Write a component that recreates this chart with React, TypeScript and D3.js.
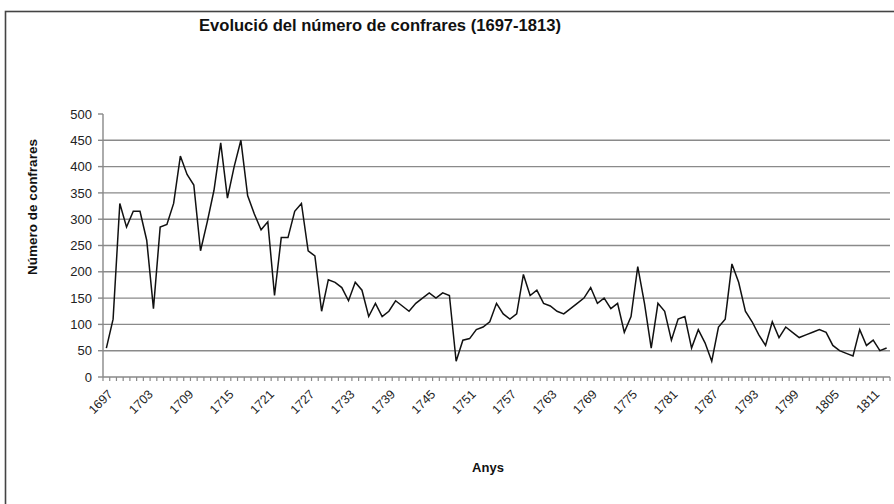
import React from "react";
import * as d3 from "d3";

const startYear = 1697;
const values: number[] = [
  55, 110, 330, 285, 315, 315, 260, 130, 285, 290,
  330, 420, 385, 365, 240, 295, 355, 445, 340, 400,
  450, 345, 310, 280, 295, 155, 265, 265, 315, 330,
  240, 230, 125, 185, 180, 170, 145, 180, 165, 115,
  140, 115, 125, 145, 135, 125, 140, 150, 160, 150,
  160, 155, 30, 70, 73, 90, 95, 105, 140, 120,
  110, 120, 195, 155, 165, 140, 135, 125, 120, 130,
  140, 150, 170, 140, 150, 130, 140, 85, 115, 210,
  140, 55, 140, 125, 70, 110, 115, 55, 90, 65,
  30, 95, 110, 215, 180, 125, 105, 80, 60, 105,
  75, 95, 85, 75, 80, 85, 90, 85, 60, 50,
  45, 40, 90, 60, 70, 50, 55,
];
const years: number[] = values.map((_, i) => startYear + i);
const yTicks: number[] = [0, 50, 100, 150, 200, 250, 300, 350, 400, 450, 500];
const gridValues: number[] = [50, 100, 150, 200, 250, 300, 350, 400, 450];
const labelYears: number[] = years.filter((y) => (y - startYear) % 6 === 0);

const title = "Evolució del número de confrares (1697-1813)";
const yTitle = "Número de confrares";
const xTitle = "Anys";

export default function App() {
  const left = 103;
  const right = 890;
  const top = 114;
  const bottom = 377;

  const x = d3
    .scaleBand<number>()
    .domain(years)
    .range([left, right])
    .paddingInner(0)
    .paddingOuter(0);
  const cx = (yr: number) => (x(yr) as number) + x.bandwidth() / 2;
  const y = d3.scaleLinear().domain([0, 500]).range([bottom, top]);

  const line = d3
    .line<number>()
    .x((_, i) => cx(years[i]))
    .y((d) => y(d));

  const bounds = years.map((yr) => x(yr) as number).concat([right]);
  const font = "'Liberation Sans', Arial, sans-serif";

  return (
    <svg
      width={894}
      height={504}
      style={{ position: "absolute", left: 0, top: 0, background: "#fff" }}
    >
      <rect x={0} y={0} width={894} height={504} fill="#fff" />
      <rect x={5.5} y={11.5} width={910} height={520} fill="none" stroke="#444" strokeWidth={1.6} />
      <text
        x={380}
        y={31}
        textAnchor="middle"
        fontFamily={font}
        fontWeight="bold"
        fontSize={16}
        textLength={362}
        lengthAdjust="spacingAndGlyphs"
        fill="#111"
      >
        {title}
      </text>
      {gridValues.map((v) => (
        <line key={v} x1={left} x2={right} y1={y(v)} y2={y(v)} stroke="#8a8a8a" strokeWidth={1.4} />
      ))}
      <line x1={left} x2={left} y1={top} y2={bottom} stroke="#888" strokeWidth={1.4} />
      <line x1={left} x2={right} y1={bottom} y2={bottom} stroke="#888" strokeWidth={1.4} />
      {yTicks.map((v) => (
        <g key={v}>
          <line x1={left - 5} x2={left} y1={y(v)} y2={y(v)} stroke="#888" strokeWidth={1.4} />
          <text
            x={92}
            y={y(v)}
            dy="0.36em"
            textAnchor="end"
            fontFamily={font}
            fontSize={13}
            fill="#222"
          >
            {v}
          </text>
        </g>
      ))}
      {bounds.map((b, i) => (
        <line key={i} x1={b} x2={b} y1={bottom} y2={bottom + 4} stroke="#888" strokeWidth={1.2} />
      ))}
      {labelYears.map((yr) => (
        <text
          key={yr}
          transform={`translate(${cx(yr) + 7},${bottom + 18}) rotate(-45)`}
          textAnchor="end"
          fontFamily={font}
          fontSize={12.5}
          fill="#222"
        >
          {yr}
        </text>
      ))}
      <path d={line(values) || ""} fill="none" stroke="#111" strokeWidth={1.5} strokeLinejoin="miter" />
      <text
        transform={`translate(37,207) rotate(-90)`}
        textAnchor="middle"
        fontFamily={font}
        fontWeight="bold"
        fontSize={13.5}
        fill="#111"
      >
        {yTitle}
      </text>
      <text
        x={488}
        y={472}
        textAnchor="middle"
        fontFamily={font}
        fontWeight="bold"
        fontSize={13}
        fill="#111"
      >
        {xTitle}
      </text>
    </svg>
  );
}
